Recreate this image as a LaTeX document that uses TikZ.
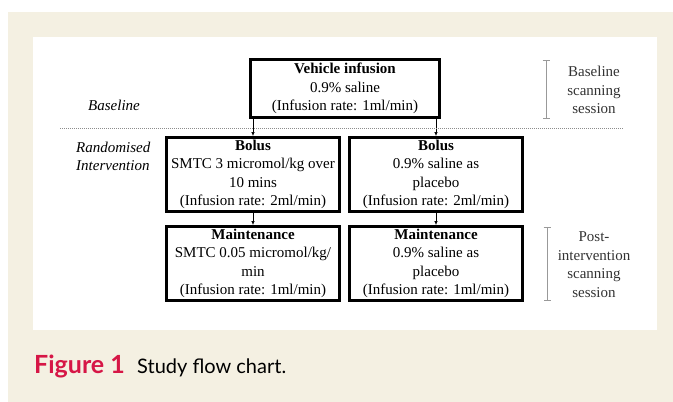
\documentclass[tikz,border=0pt]{standalone}
\usepackage{fontspec}
\usepackage{xcolor}
\usetikzlibrary{arrows.meta}
\setmainfont{Liberation Serif}
\newfontfamily\capfont{Lato}
\definecolor{pagebeige}{RGB}{244,240,226}
\definecolor{figred}{RGB}{214,22,70}
\tikzset{
	stage/.style={draw, line width=3pt, align=center, inner sep=0pt,
		minimum width=173pt, minimum height=74pt,
		font=\fontsize{15}{18.5}\selectfont},
	flow/.style={draw, line width=0.6pt, -{Latex[length=4pt,width=3.5pt]}},
	phase/.style={align=left, font=\fontsize{15}{18.5}\selectfont\itshape},
	session/.style={align=center, text=black!80, font=\fontsize{15}{18.5}\selectfont},
	bracket/.style={draw=black!40, line width=1pt, {Bar[width=7pt]}-{Bar[width=7pt]}},
}
\begin{document}
\begin{tikzpicture}[x=1pt, y=-1pt]
		\useasboundingbox (0,0) rectangle (673,402);
		\fill[pagebeige] (8,12) rectangle (673,402);
		\fill[white] (33,37) rectangle (657,330);

		\path (345,88.5) node[stage, minimum width=189pt, minimum height=58pt] (vehicle) {\textbf{Vehicle infusion}\\0.9\% saline\\(Infusion rate: 1ml/min)};
		\path (vehicle) ++(-92,86) node[stage] (bolusL) {\textbf{Bolus}\\SMTC 3 micromol/kg over\\10 mins\\(Infusion rate: 2ml/min)};
		\path (bolusL) ++(183,0) node[stage] (bolusR) {\textbf{Bolus}\\0.9\% saline as\\placebo\\(Infusion rate: 2ml/min)};
		\path (bolusL) ++(0,89) node[stage] (maintL) {\textbf{Maintenance}\\SMTC 0.05 micromol/kg/\\min\\(Infusion rate: 1ml/min)};
		\path (bolusR) ++(0,89) node[stage] (maintR) {\textbf{Maintenance}\\0.9\% saline as\\placebo\\(Infusion rate: 1ml/min)};

		\path [flow] (bolusL.north |- vehicle.south) -- (bolusL.north);
		\path [flow] (bolusR.north |- vehicle.south) -- (bolusR.north);
		\path [flow] (bolusL.south) -- (maintL.north);
		\path [flow] (bolusR.south) -- (maintR.north);

		\path (88,105) node[phase, anchor=west, inner sep=0pt] (base) {Baseline};
		\path (76,156.5) node[phase, anchor=west, inner sep=0pt] (rand) {Randomised\\Intervention};

		\coordinate (dotL) at (60,128);
		\coordinate (dotR) at (623,128);
		\path [draw=black!45, line width=0.7pt, dash pattern=on 1pt off 1pt] (dotL) -- (dotR);

		\coordinate (scanA) at (546,60);
		\coordinate (scanB) at (546,119);
		\path [bracket] (scanA) -- (scanB);
		\path (594,90) node[session] (baseSes) {Baseline\\scanning\\session};
		\coordinate (postA) at (547,227);
		\coordinate (postB) at (547,301);
		\path [bracket] (postA) -- (postB);
		\path (594,264.5) node[session] (postSes) {Post-\\intervention\\scanning\\session};

		\path (34,373) node[anchor=base west, inner sep=0pt, text=figred, font=\capfont\fontsize{25}{28}\selectfont\bfseries] (fignum) {Figure 1};
		\path (137,373) node[anchor=base west, inner sep=0pt, font=\capfont\fontsize{20}{24}\selectfont] (figtext) {Study flow chart.};
	\end{tikzpicture}
\end{document}
